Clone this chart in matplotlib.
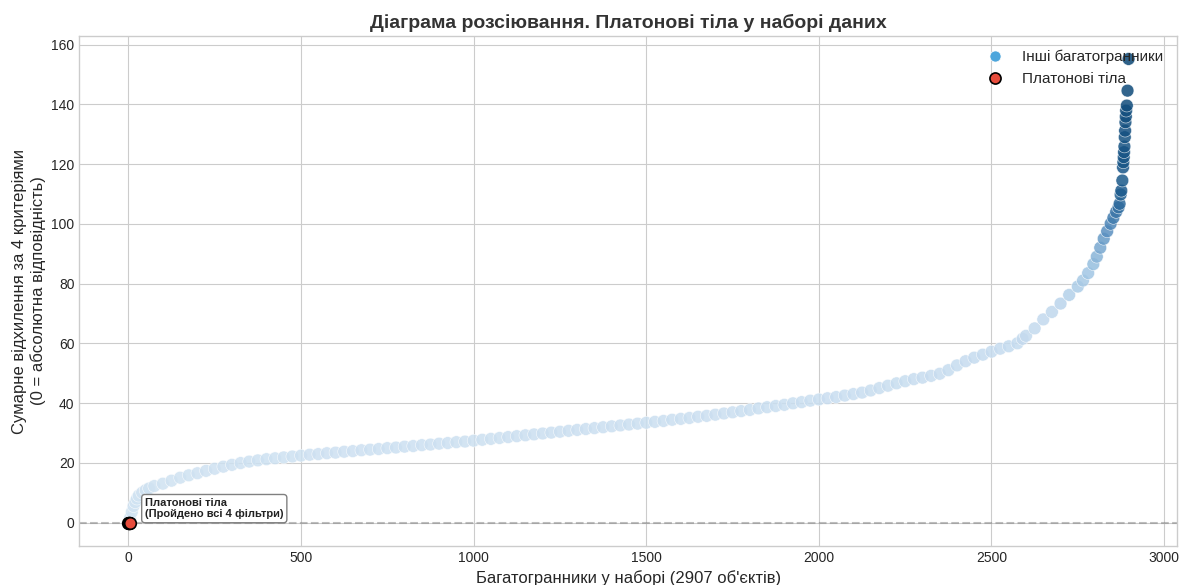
import matplotlib.pyplot as plt
from matplotlib.colors import LinearSegmentedColormap
from matplotlib.lines import Line2D

# індекси багатогранників (після сортування) та сумарне відхилення
platonic_idx = [0, 1, 2, 3, 4]
platonic_dev = [0, 0, 0, 0, 0]

idx = [5, 10, 15, 20, 25, 30, 40, 50, 60, 75,
       100, 125, 150, 175, 200, 225, 250, 275, 300, 325,
       350, 375, 400, 425, 450, 475, 500, 525, 550, 575,
       600, 625, 650, 675, 700, 725, 750, 775, 800, 825,
       850, 875, 900, 925, 950, 975, 1000, 1025, 1050, 1075,
       1100, 1125, 1150, 1175, 1200, 1225, 1250, 1275, 1300, 1325,
       1350, 1375, 1400, 1425, 1450, 1475, 1500, 1525, 1550, 1575,
       1600, 1625, 1650, 1675, 1700, 1725, 1750, 1775, 1800, 1825,
       1850, 1875, 1900, 1925, 1950, 1975, 2000, 2025, 2050, 2075,
       2100, 2125, 2150, 2175, 2200, 2225, 2250, 2275, 2300, 2325,
       2350, 2375, 2400, 2425, 2450, 2475, 2500, 2525, 2550, 2575,
       2590, 2600, 2625, 2650, 2675, 2700, 2725, 2750, 2765, 2780,
       2795, 2805, 2815, 2825, 2835, 2845, 2853, 2861, 2868, 2871,
       2874, 2876, 2879, 2881, 2882, 2883, 2884, 2885, 2886, 2887,
       2888, 2889, 2890, 2892, 2894, 2897]
dev = [1.5, 3.5, 5.5, 6.8, 8.0, 9.0, 10.0, 10.8, 11.4, 12.2,
       13.0, 14.0, 15.0, 15.8, 16.5, 17.3, 18.0, 18.7, 19.3, 19.9,
       20.4, 20.8, 21.2, 21.5, 21.8, 22.1, 22.4, 22.7, 22.9, 23.2,
       23.4, 23.7, 23.9, 24.2, 24.4, 24.6, 24.9, 25.1, 25.4, 25.6,
       25.9, 26.1, 26.4, 26.6, 26.9, 27.1, 27.4, 27.7, 28.0, 28.3,
       28.6, 28.9, 29.2, 29.5, 29.8, 30.1, 30.4, 30.7, 31.0, 31.3,
       31.6, 31.9, 32.2, 32.5, 32.8, 33.1, 33.4, 33.7, 34.0, 34.4,
       34.7, 35.0, 35.4, 35.7, 36.1, 36.5, 36.9, 37.3, 37.7, 38.2,
       38.6, 39.0, 39.4, 39.9, 40.3, 40.8, 41.2, 41.6, 42.0, 42.5,
       43.0, 43.5, 44.2, 45.0, 45.8, 46.6, 47.3, 48.0, 48.5, 49.1,
       49.8, 51.0, 52.6, 54.0, 55.2, 56.2, 57.2, 58.2, 59.0, 60.0,
       61.5, 62.5, 65.0, 68.0, 70.5, 73.3, 76.2, 79.0, 81.0, 83.5,
       86.5, 89.0, 92.0, 95.0, 97.5, 100.0, 102.0, 104.0, 105.5, 106.7,
       109.8, 111.1, 114.5, 118.9, 120.6, 122.3, 124.0, 125.9, 129.0, 131.2,
       134.0, 135.9, 137.9, 139.6, 144.6, 155.2]

total = 2907

plt.style.use('seaborn-v0_8-whitegrid')
plt.rcParams['font.family'] = ['Liberation Sans', 'DejaVu Sans']

# світлі точки для малих відхилень, темні для "хвоста"
cmap = LinearSegmentedColormap.from_list('dev_blues', [
    (0.0, '#d2e4f2'), (0.45, '#c2d9ee'), (0.55, '#9cc3e2'),
    (0.64, '#4f88ba'), (0.72, '#1c5a8c'), (1.0, '#0a4573')])

fig, ax = plt.subplots(figsize=(11.84, 5.85), dpi=100)
fig.subplots_adjust(left=0.067, right=0.994, top=0.938, bottom=0.067)

ax.scatter(idx, dev, c=dev, cmap=cmap, vmin=0, vmax=max(dev),
           s=85, alpha=0.85, edgecolors='white', linewidths=0.4, zorder=2)
ax.scatter(platonic_idx, platonic_dev, color='#e74c3c', edgecolors='black',
           s=70, linewidths=1.2, zorder=5)

ax.axhline(0, color='gray', linestyle='--', linewidth=1.5, alpha=0.5, zorder=1)

ax.annotate('Платонові тіла\n(Пройдено всі 4 фільтри)', xy=(0, 0),
            xytext=(12, 10), textcoords='offset points', ha='left', va='center',
            fontsize=8, fontweight='bold', color='#222222',
            bbox=dict(boxstyle='round,pad=0.3', fc='white', ec='gray', lw=1))

ax.set_xlim(-142, 3037)
ax.set_ylim(-7.8, 162.8)

ax.set_title('Діаграма розсіювання. Платонові тіла у наборі даних',
             fontsize=14, fontweight='bold', color='#333333')
ax.set_xlabel(f"Багатогранники у наборі ({total} об'єктів)", fontsize=12, labelpad=4)
ax.set_ylabel('Сумарне відхилення за 4 критеріями\n(0 = абсолютна відповідність)', fontsize=12)

handles = [
    Line2D([], [], marker='o', linestyle='', markersize=8, markerfacecolor='#4ea6dc',
           markeredgecolor='white', markeredgewidth=0.5),
    Line2D([], [], marker='o', linestyle='', markersize=8, markerfacecolor='#e74c3c',
           markeredgecolor='black', markeredgewidth=1.2),
]
ax.legend(handles, ['Інші багатогранники', 'Платонові тіла'], loc='upper right',
          fontsize=11, frameon=False)

plt.savefig('out.png', dpi=100)
